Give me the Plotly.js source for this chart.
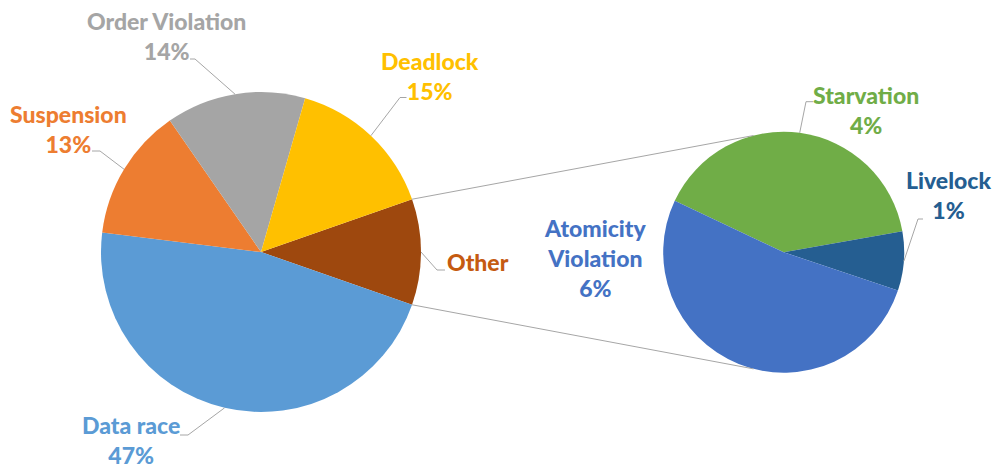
<!DOCTYPE html>
<html><head><meta charset="utf-8">
<script src="https://cdn.plot.ly/plotly-3.0.1.min.js"></script>
<style>html,body{margin:0;padding:0;background:#fff}#chart{width:992px;height:468px}</style>
</head><body><div id="chart"></div>
<script>
// ---------------- data ----------------
const mainCategories = ['Data race', 'Suspension', 'Order Violation', 'Deadlock'];
const mainValues = [46.6, 13.4, 14.1, 15.2];
const otherLabel = 'Other';
const subCategories = ['Starvation', 'Livelock', 'Atomicity Violation'];
const subValues = [4.3, 0.85, 5.55];

const mainColors = ['#5B9BD5', '#ED7D31', '#A5A5A5', '#FFC000'];
const otherColor = '#9E480E';
const otherTextColor = '#C55A11';
const subColors = ['#70AD47', '#255E91', '#4472C4'];

// ---------------- geometry (layout) ----------------
const W = 992, H = 468;
const mainC = {x: 261, y: 252, r: 160};
const subC = {x: 783.7, y: 252.2, r: 120.5};
const subRotation = -64.7;     // clockwise degrees from 12 o'clock
const connectorAngle = 14.5;   // degrees from vertical where connectors meet the small pie
const FONT = 'Lato, "Open Sans", sans-serif';
const FS = 23;
const lineColor = '#A6A6A6';

const px = x => x / W;
const py = y => 1 - y / H;
const sum = a => a.reduce((s, v) => s + v, 0);

const otherValue = sum(subValues);
const pieLabels = [otherLabel].concat(mainCategories);
const pieValues = [otherValue].concat(mainValues);
const pieColors = [otherColor].concat(mainColors);
const pieTextColors = [otherTextColor].concat(mainColors);
const total = sum(pieValues);
const mainRotation = 90 - (otherValue / total * 360) / 2;

function domainOf(c) {
  return {x: [px(c.x - c.r), px(c.x + c.r)], y: [py(c.y + c.r), py(c.y - c.r)]};
}
function edge(c, angDeg, rScale) {
  const a = angDeg * Math.PI / 180, r = c.r * (rScale || 1);
  return [c.x + r * Math.sin(a), c.y - r * Math.cos(a)];
}
function midAngles(values, rot) {
  const t = sum(values); let cum = rot; const out = [];
  values.forEach(v => { const a = v / t * 360; out.push(cum + a / 2); cum += a; });
  return out;
}
const mainMids = midAngles(pieValues, mainRotation);
const subMids = midAngles(subValues, subRotation);

const pct = v => Math.round(v / total * 100) + '%';

const traces = [
  {type: 'pie', labels: pieLabels, values: pieValues, sort: false, direction: 'clockwise',
   rotation: mainRotation, marker: {colors: pieColors, line: {width: 0}},
   textinfo: 'none', hoverinfo: 'none', showlegend: false, domain: domainOf(mainC)},
  {type: 'pie', labels: subCategories, values: subValues, sort: false, direction: 'clockwise',
   rotation: subRotation, marker: {colors: subColors, line: {width: 0}},
   textinfo: 'none', hoverinfo: 'none', showlegend: false, domain: domainOf(subC)}
];

// label placement (text centre, elbow, stub end) in pixels
const mainLabelPos = {
  'Other':           {x: 446, y: 262, xa: 'left', showPct: false, elbow: [437, 270], end: [445, 270]},
  'Data race':       {x: 131, y: 440, xa: 'center', showPct: true, elbow: [188, 435], end: [180, 435]},
  'Suspension':      {x: 68, y: 129, xa: 'center', showPct: true, elbow: [100, 151], end: [92, 151]},
  'Order Violation': {x: 166, y: 36, xa: 'center', showPct: true, elbow: [195, 59], end: [190, 59]},
  'Deadlock':        {x: 430, y: 76, xa: 'center', showPct: true, elbow: [400, 97.5], end: [406.5, 97.5]}
};
const subLabelPos = {
  'Starvation':          {x: 866, y: 110, text: 'Starvation', elbow: [806, 101.7], end: [813, 101.7]},
  'Livelock':            {x: 948, y: 195, text: 'Livelock', elbow: [918, 219], end: [923, 219]},
  'Atomicity Violation': {x: 595, y: 258, text: 'Atomicity<br>Violation', elbow: null}
};

const annotations = [];
const shapes = [];
function leader(start, elbow, end) {
  shapes.push({type: 'path', xref: 'paper', yref: 'paper',
    path: `M ${px(start[0])},${py(start[1])} L ${px(elbow[0])},${py(elbow[1])} L ${px(end[0])},${py(end[1])}`,
    line: {color: lineColor, width: 1}});
}
pieLabels.forEach((lab, i) => {
  const p = mainLabelPos[lab];
  const txt = p.showPct ? lab + '<br>' + pct(pieValues[i]) : lab;
  annotations.push({xref: 'paper', yref: 'paper', x: px(p.x), y: py(p.y), xanchor: p.xa, yanchor: 'middle',
    text: txt, showarrow: false, align: 'center', borderpad: 0,
    font: {family: FONT, size: FS, color: pieTextColors[i], weight: 900}});
  if (p.elbow) leader(edge(mainC, mainMids[i]), p.elbow, p.end);
});
subCategories.forEach((lab, i) => {
  const p = subLabelPos[lab];
  annotations.push({xref: 'paper', yref: 'paper', x: px(p.x), y: py(p.y), xanchor: 'center', yanchor: 'middle',
    text: p.text + '<br>' + pct(subValues[i]), showarrow: false, align: 'center', borderpad: 0,
    font: {family: FONT, size: FS, color: subColors[i], weight: 900}});
  if (p.elbow) leader(edge(subC, subMids[i]), p.elbow, p.end);
});

// connector lines between the "Other" slice and the secondary pie
const aOther = otherValue / total * 360;
const oTop = edge(mainC, mainRotation);
const oBot = edge(mainC, mainRotation + aOther);
const sTop = edge(subC, -connectorAngle);
const sBot = edge(subC, 180 + connectorAngle);
[[oTop, sTop], [oBot, sBot]].forEach(([a, b]) => {
  shapes.push({type: 'line', xref: 'paper', yref: 'paper', x0: px(a[0]), y0: py(a[1]), x1: px(b[0]), y1: py(b[1]),
    line: {color: lineColor, width: 1}});
});

const layout = {width: W, height: H, margin: {l: 0, r: 0, t: 0, b: 0},
  paper_bgcolor: '#ffffff', plot_bgcolor: '#ffffff', showlegend: false,
  annotations: annotations, shapes: shapes};

Plotly.newPlot('chart', traces, layout, {staticPlot: true, displayModeBar: false});
</script></body></html>
